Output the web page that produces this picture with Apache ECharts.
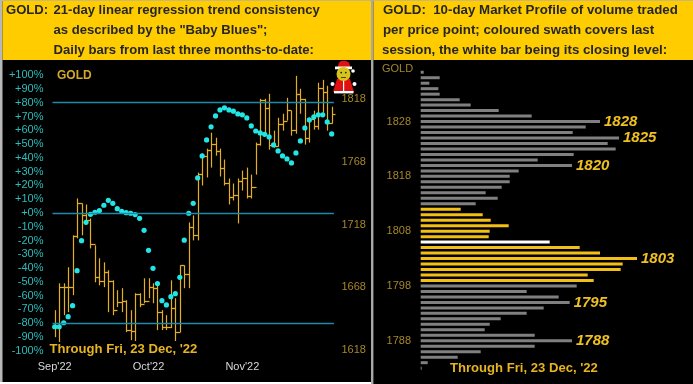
<!DOCTYPE html>
<html>
<head>
<meta charset="utf-8">
<title>GOLD</title>
<style>
  html, body { margin: 0; padding: 0; background: #fff; }
  #chart { width: 693px; height: 384px; }
</style>
<script src="https://cdn.jsdelivr.net/npm/echarts@6/dist/echarts.min.js"></script>
</head>
<body>
<div id="chart"></div>
<script>
// left panel: daily bars of gold
const opens = [1636.3,1636.3,1668.1,1668.1,1668.1,1708.6,1734.8,1725.3,1721.3,1702.2,1676,1672.8,1680,1672.8,1649.8,1656.1,1656.9,1633.9,1633.1,1662.5,1654.6,1656.9,1668.1,1667.3,1648.2,1636.3,1636.3,1651.4,1632.3,1685.5,1678.4,1715.7,1709.4,1758.6,1772.9,1777.7,1782.5,1776.9,1763.4,1751.5,1739.6,1741.2,1753.1,1754.7,1740.4,1748.3,1782.5,1817.4,1811.1,1781.7,1780.9,1798.4,1800.8,1809.5,1793.6,1822.2,1818.2,1787.2,1802.3,1796.8,1827,1823.8,1799.2]
const highs = [1649.8,1671.2,1671.2,1684,1709.4,1738.8,1734.8,1734,1722.9,1701.4,1691.1,1687.9,1681.6,1673.6,1665.7,1667.3,1657.7,1649.8,1663.3,1663.3,1675.2,1675.2,1671.2,1672,1649.8,1645.8,1673.6,1659.3,1685.5,1685.5,1719.7,1725.3,1759.4,1774.5,1778.5,1791.2,1787.2,1778.5,1769.8,1754.7,1750.7,1754.7,1761,1763.4,1757.8,1783.3,1818.2,1818.2,1822.2,1792.8,1803.1,1806.3,1819,1808.7,1836.5,1826.2,1818.2,1803.1,1808.7,1831,1833.3,1828.6,1811.9]
const lows = [1628.3,1624.4,1645.8,1648.2,1661.7,1707,1709.4,1718.1,1699,1672,1669.6,1668.1,1648.2,1645.8,1652.2,1648.2,1632.3,1625.9,1625.2,1652.2,1655.3,1659.3,1655.3,1633.9,1633.9,1633.9,1635.5,1625.2,1632.3,1667.3,1667.3,1705.4,1705.4,1749.1,1755.5,1763.4,1772.9,1756.3,1749.1,1734,1737.2,1718.9,1745.1,1738.8,1738.8,1757.8,1780.9,1788.8,1777.7,1779.3,1780.1,1792.8,1800.8,1788.8,1790.4,1806.3,1781.7,1783.3,1793.6,1793.6,1807.1,1792.8,1798.4]
const closes = [1636.3,1668.1,1668.1,1668.1,1708.6,1734.8,1725.3,1721.3,1702.2,1676,1672.8,1680,1672.8,1649.8,1656.1,1656.9,1633.9,1633.1,1662.5,1654.6,1656.9,1668.1,1667.3,1648.2,1636.3,1636.3,1651.4,1632.3,1685.5,1678.4,1715.7,1709.4,1758.6,1772.9,1777.7,1782.5,1776.9,1763.4,1751.5,1739.6,1741.2,1753.1,1754.7,1740.4,1748.3,1782.5,1817.4,1811.1,1781.7,1780.9,1798.4,1800.8,1809.5,1793.6,1822.2,1818.2,1787.2,1802.3,1796.8,1827,1823.8,1799.2,1806.3]
// the "Baby Blues" dots, in percent
const babyBlues = [-82.6,-82.6,-79.7,-75.3,-67.3,-41.9,-20.1,-6.8,-1,0.5,1.7,5.6,9.2,7,3.1,1.2,0.2,-0.2,-1.2,-3.9,-12.6,-27.1,-40.2,-51.3,-63.7,-66.8,-60.8,-58.6,-46.7,-19.8,-0.2,7,25.4,41.4,53,62.5,70.4,74.8,76.3,74.8,73.9,71.9,71.2,69,63.2,59.5,58.1,57.1,55.2,49.4,45,41.4,39.2,36.3,43.6,52.3,61.7,67.5,69.7,71.2,71.2,66.1,57.4]
const trendLevels = [80, 0, -80]
const priceTicks = [1618, 1668, 1718, 1768, 1818]
const monthLabels = { 0: "Sep'22", 21: "Oct'22", 42: "Nov'22" }

// right panel: 10-day market profile, one row per price point
const profilePrices = [1837,1836,1835,1834,1833,1832,1831,1830,1829,1828,1827,1826,1825,1824,1823,1822,1821,1820,1819,1818,1817,1816,1815,1814,1813,1812,1811,1810,1809,1808,1807,1806,1805,1804,1803,1802,1801,1800,1799,1798,1797,1796,1795,1794,1793,1792,1791,1790,1789,1788,1787,1786,1785,1784,1783]
const profileVolumes = [9,57,26,53,57,117,150,234,333,538,495,456,595,561,585,459,351,454,294,267,267,243,195,231,165,120,186,210,264,207,204,387,477,538,649,606,600,501,519,468,318,414,447,369,318,240,207,192,342,454,342,180,111,21,3]
const profileTicks = [1828, 1818, 1808, 1798, 1788]
const profileCallouts = [1828, 1825, 1820, 1803, 1795, 1788]
const swathHigh = 1812
const swathLow = 1799
const lastClose = 1806

const FONT = '"Liberation Sans", Arial, sans-serif'
const GOLD_TEXT = '#e6b422'
const DIM_GOLD = '#a5862a'

const categories = closes.map((c, i) => monthLabels[i] || '')
const ohlc = closes.map((c, i) => [i, opens[i], highs[i], lows[i], c])

function renderBar(params, api) {
  const i = api.value(0)
  const x = Math.round(api.coord([i, api.value(2)])[0]) + 0.5
  const top = api.coord([i, api.value(2)])[1]
  const bottom = api.coord([i, api.value(3)])[1]
  const open = Math.round(api.coord([i, api.value(1)])[1]) + 0.5
  const close = Math.round(api.coord([i, api.value(4)])[1]) + 0.5
  const tick = 3
  const style = { stroke: '#e3ae22', lineWidth: 1.2, fill: null }
  return {
    type: 'group',
    children: [
      { type: 'line', shape: { x1: x, y1: top, x2: x, y2: bottom }, style },
      { type: 'line', shape: { x1: x - tick, y1: open, x2: x, y2: open }, style },
      { type: 'line', shape: { x1: x, y1: close, x2: x + tick, y2: close }, style }
    ]
  }
}

function profileColor(price) {
  if (price === lastClose) return '#ffffff'
  if (price <= swathHigh && price >= swathLow) return '#f2c014'
  return '#808080'
}

function headerText(text, x, y, size) {
  return {
    type: 'text',
    z: 10,
    style: { text, x, y, fill: '#262626', font: 'bold ' + size + 'px ' + FONT, textVerticalAlign: 'middle' }
  }
}

function plainRect(x, y, width, height, fill, z) {
  return { type: 'rect', z: z || 1, shape: { x, y, width, height }, style: { fill } }
}

// little Santa in the top right corner of the left panel
function santa() {
  const red = '#e01010'
  return [
    { type: 'polygon', z: 20, shape: { points: [[337, 69], [351, 69], [349, 62.5], [346, 61], [341, 61], [339, 62.5]] }, style: { fill: red } },
    plainRect(335, 66.5, 17, 2.8, '#ffffff', 21),
    { type: 'circle', z: 21, shape: { cx: 353, cy: 71, r: 1.8 }, style: { fill: '#ffffff' } },
    { type: 'polygon', z: 20, shape: { points: [[337, 79], [350, 79], [354, 92], [333, 92]] }, style: { fill: red } },
    plainRect(343, 80, 1.2, 11, '#ffffff', 21),
    plainRect(334, 91, 19.5, 2.4, '#ffffff', 21),
    { type: 'circle', z: 21, shape: { cx: 332.5, cy: 84, r: 2 }, style: { fill: '#ffffff' } },
    { type: 'circle', z: 21, shape: { cx: 354.5, cy: 84, r: 2 }, style: { fill: '#ffffff' } },
    { type: 'circle', z: 22, shape: { cx: 343.5, cy: 74, r: 7 }, style: { fill: '#d6c41a' } },
    { type: 'circle', z: 23, shape: { cx: 341.2, cy: 72.6, r: 0.9 }, style: { fill: '#222' } },
    { type: 'circle', z: 23, shape: { cx: 345.8, cy: 72.6, r: 0.9 }, style: { fill: '#222' } },
    plainRect(341, 77, 5, 0.9, '#443300', 23)
  ]
}

const chart = echarts.init(document.getElementById('chart'))

chart.setOption({
  backgroundColor: '#000',
  animation: false,
  textStyle: { fontFamily: FONT },
  graphic: [
    // frame and yellow headers
    plainRect(0, 0, 693, 1, '#c9b878'),
    plainRect(0, 0, 2.5, 384, '#b8b8b8'),
    plainRect(371, 0, 2.4, 384, '#a8a8a8'),
    plainRect(0, 382, 371, 2, '#ffffff'),
    plainRect(2.5, 1, 368.5, 59, '#ffcc00'),
    plainRect(373.4, 1, 320, 59, '#ffcc00'),
    headerText('GOLD:', 6, 10.5, 13.1),
    headerText('21-day linear regression trend consistency', 53.5, 10.5, 13.1),
    headerText('as described by the "Baby Blues";', 53.5, 30.5, 13.1),
    headerText('Daily bars from last three months-to-date:', 53.5, 50.5, 13.1),
    headerText('GOLD:  10-day Market Profile of volume traded', 383, 10.5, 13.3),
    headerText('per price point; coloured swath covers last', 383, 30.5, 13.3),
    headerText('session, the white bar being its closing level:', 382, 50.5, 13.3),
    { type: 'text', z: 10, style: { text: 'GOLD', x: 57, y: 76, fill: '#d4a82c', font: 'bold 12px ' + FONT, textVerticalAlign: 'middle' } },
    { type: 'text', z: 10, style: { text: 'GOLD', x: 382, y: 68.5, fill: DIM_GOLD, font: '11px ' + FONT, textVerticalAlign: 'middle' } },
    { type: 'text', z: 10, style: { text: "Through Fri, 23 Dec, '22", x: 49.5, y: 349, fill: GOLD_TEXT, font: 'bold 13.1px ' + FONT, textVerticalAlign: 'middle' } },
    { type: 'text', z: 10, style: { text: "Through Fri, 23 Dec, '22", x: 450, y: 368, fill: GOLD_TEXT, font: 'bold 13.1px ' + FONT, textVerticalAlign: 'middle' } }
  ].concat(santa()),
  grid: [
    { left: 52.5, top: 75.2, width: 281.4, height: 275.5 },
    { left: 420.7, top: 69.5, width: 272.3, height: 301.4 }
  ],
  xAxis: [
    {
      type: 'category',
      gridIndex: 0,
      data: categories,
      axisLine: { show: false },
      axisTick: { show: false },
      axisLabel: { interval: 0, margin: 11, color: '#d8d8d8', fontSize: 11, fontFamily: FONT, hideOverlap: false }
    },
    {
      type: 'value',
      gridIndex: 1,
      min: 0,
      max: 817,
      show: false
    }
  ],
  yAxis: [
    {
      type: 'value',
      gridIndex: 0,
      min: -100,
      max: 100,
      interval: 10,
      axisLine: { show: false },
      axisTick: { show: false },
      splitLine: { show: false },
      axisLabel: {
        margin: 9,
        color: '#2cbcbc',
        fontSize: 11,
        fontFamily: FONT,
        formatter: v => (v >= 0 ? '+' : '') + v + '%'
      }
    },
    {
      type: 'value',
      gridIndex: 0,
      position: 'right',
      min: 1617.5,
      max: 1837,
      axisLine: { show: false },
      axisTick: { show: false },
      splitLine: { show: false },
      axisLabel: {
        customValues: priceTicks,
        margin: 7.5,
        color: DIM_GOLD,
        fontSize: 11,
        fontFamily: FONT,
        formatter: v => String(v)
      }
    },
    {
      type: 'category',
      gridIndex: 1,
      inverse: true,
      data: profilePrices,
      axisLine: { show: false },
      axisTick: { show: false },
      splitLine: { show: false },
      axisLabel: {
        interval: 0,
        margin: 9.7,
        color: DIM_GOLD,
        fontSize: 11,
        fontFamily: FONT,
        formatter: v => (profileTicks.includes(Number(v)) ? v : '')
      }
    }
  ],
  series: [
    {
      name: 'GOLD',
      type: 'custom',
      xAxisIndex: 0,
      yAxisIndex: 1,
      renderItem: renderBar,
      encode: { x: 0, y: [1, 2, 3, 4] },
      data: ohlc,
      z: 3
    },
    {
      name: 'Baby Blues',
      type: 'scatter',
      xAxisIndex: 0,
      yAxisIndex: 0,
      symbolSize: 5.2,
      itemStyle: { color: '#22e6e6', opacity: 1 },
      data: babyBlues.map((v, i) => [i, v]),
      z: 4,
      markLine: {
        silent: true,
        symbol: 'none',
        label: { show: false },
        lineStyle: { color: '#1b8bab', width: 1.4, type: 'solid' },
        data: trendLevels.map(v => ({ yAxis: v }))
      }
    },
    {
      name: 'Market Profile',
      type: 'bar',
      xAxisIndex: 1,
      yAxisIndex: 2,
      barWidth: 3,
      data: profileVolumes.map((v, i) => {
        const price = profilePrices[i]
        return {
          value: v,
          itemStyle: { color: profileColor(price) },
          label: {
            show: profileCallouts.includes(price),
            position: 'right',
            distance: 4,
            formatter: String(price),
            color: '#efc020',
            fontStyle: 'italic',
            fontWeight: 'bold',
            fontSize: 15,
            fontFamily: FONT
          }
        }
      }),
      z: 3
    }
  ]
})
</script>
</body>
</html>
